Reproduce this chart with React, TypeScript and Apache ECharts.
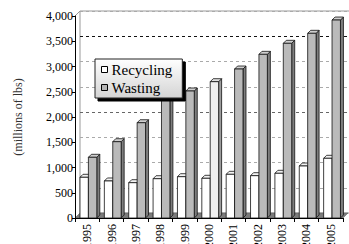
import React, { useEffect, useRef } from "react";
import * as echarts from "echarts";

const years = ["1995", "1996", "1997", "1998", "1999", "2000", "2001", "2002", "2003", "2004", "2005"];
const recycling = [806, 733, 699, 778, 818, 786, 865, 838, 885, 1030, 1182];
const wasting = [1202, 1511, 1887, 2350, 2515, 2699, 2950, 3241, 3459, 3657, 3920];
const lightWastingYear = "2000";
const yTicks = [0, 500, 1000, 1500, 2000, 2500, 3000, 3500, 4000];

const W = 349;
const H = 244;
const G = { left: 75, top: 16, right: 6, bottom: 26 };
const DEPTH = 5;
const BAR_D = 3;
const FONT = "'Liberation Serif', 'Times New Roman', serif";

function makeRender(which: number) {
  return (params: any, api: any) => {
    const idx = api.value(0);
    const val = api.value(1);
    const top = api.coord([idx, val]);
    const base = api.coord([idx, 0]);
    const w = api.size([1, 0])[0];
    const x0 = top[0] - w / 2;
    const left = x0 + (which === 0 ? 0.205 : 0.55) * w;
    const right = x0 + (which === 0 ? 0.55 : 0.895) * w;
    const yT = top[1];
    const yB = base[1];
    const d = BAR_D;
    let front = "#ffffff", cap = "#f2f2f2", side = "#9a9a9a";
    if (which === 1) {
      if (years[idx] === lightWastingYear) {
        front = "#efefef"; cap = "#dedede"; side = "#9c9c9c";
      } else {
        front = "#bababa"; cap = "#cfcfcf"; side = "#7e7e7e";
      }
    }
    const stroke = "#111";
    const lw = 0.8;
    return {
      type: "group",
      children: [
        {
          type: "polygon",
          shape: { points: [[right, yB], [right + d, yB - d], [right + d, yT - d], [right, yT]] },
          style: { fill: side, stroke, lineWidth: lw },
        },
        {
          type: "polygon",
          shape: { points: [[left, yT], [left + d, yT - d], [right + d, yT - d], [right, yT]] },
          style: { fill: cap, stroke, lineWidth: lw },
        },
        {
          type: "rect",
          shape: { x: left, y: yT, width: right - left, height: yB - yT },
          style: { fill: front, stroke, lineWidth: lw },
        },
      ],
    };
  };
}

export default function App() {
  const ref = useRef<HTMLDivElement>(null);
  useEffect(() => {
    if (!ref.current) return;
    const chart = echarts.init(ref.current, null, { renderer: "svg" });
    const gridColors = yTicks.map((t) => (t === 3500 ? "#111" : t === 2000 ? "#666" : "#aaaaaa"));
    const plotRight = W - G.right;
    const plotBottom = H - G.bottom;
    chart.setOption({
      animation: false,
      backgroundColor: "#fff",
      textStyle: { fontFamily: FONT },
      grid: [
        { left: G.left, top: G.top, right: G.right, bottom: G.bottom, outerBoundsMode: "none", containLabel: false },
        {
          left: G.left + DEPTH,
          top: G.top - DEPTH,
          right: G.right - DEPTH - 2,
          bottom: G.bottom + DEPTH,
          outerBoundsMode: "none",
          containLabel: false,
          show: true,
          borderColor: "#999",
          borderWidth: 1,
          backgroundColor: "transparent",
        },
      ],
      xAxis: [
        {
          type: "category",
          data: years,
          gridIndex: 0,
          z: 3,
          boundaryGap: true,
          axisLine: { lineStyle: { color: "#000", width: 1 } },
          axisTick: { show: true, length: 4, lineStyle: { color: "#000" }, alignWithLabel: false },
          axisLabel: { rotate: 90, fontSize: 12, color: "#000", margin: 6, fontFamily: FONT, interval: 0, hideOverlap: false },
          splitLine: { show: false },
        },
        {
          type: "category",
          data: years,
          gridIndex: 1,
          show: false,
        },
      ],
      yAxis: [
        {
          type: "value",
          gridIndex: 0,
          min: 0,
          max: 4000,
          interval: 500,
          z: 3,
          name: "(millions of lbs)",
          nameLocation: "middle",
          nameGap: 51,
          nameTextStyle: { fontSize: 12, color: "#333", fontFamily: FONT },
          axisLine: { show: true, lineStyle: { color: "#000", width: 1 } },
          axisTick: { show: true, length: 3, lineStyle: { color: "#000" } },
          axisLabel: {
            fontSize: 12,
            color: "#000",
            margin: 2,
            fontFamily: FONT,
            formatter: (v: number) => v.toLocaleString("en-US"),
          },
          splitLine: { show: false },
        },
        {
          type: "value",
          gridIndex: 1,
          min: 0,
          max: 4000,
          interval: 500,
          axisLine: { show: false },
          axisTick: { show: false },
          axisLabel: { show: false },
          splitLine: { show: true, lineStyle: { color: gridColors, type: [3, 3], width: 1 } },
        },
      ],
      legend: {
        orient: "vertical",
        left: 95,
        top: 59,
        padding: [3, 10, 3, 6],
        itemGap: 3,
        itemWidth: 6,
        itemHeight: 6,
        icon: "rect",
        backgroundColor: new echarts.graphic.LinearGradient(0, 0, 0, 1, [
          { offset: 0, color: "#ffffff" },
          { offset: 1, color: "#d4d4d4" },
        ]),
        borderColor: "#222",
        borderWidth: 1,
        shadowColor: "#000",
        shadowBlur: 0,
        shadowOffsetX: 3,
        shadowOffsetY: 3,
        textStyle: { fontSize: 15, color: "#000", fontFamily: FONT, lineHeight: 15, padding: [0, 0, 0, -1] },
        data: [
          { name: "Recycling", itemStyle: { color: "#fff", borderColor: "#000", borderWidth: 1 } },
          { name: "Wasting", itemStyle: { color: "#b4b4b4", borderColor: "#000", borderWidth: 1 } },
        ],
      },
      graphic: {
        elements: [
          {
            type: "polygon",
            z: 1,
            shape: {
              points: [
                [G.left, plotBottom],
                [plotRight, plotBottom],
                [plotRight + DEPTH, plotBottom - DEPTH],
                [G.left + DEPTH, plotBottom - DEPTH],
              ],
            },
            style: { fill: "#7c7c7c", stroke: "#555", lineWidth: 0.5 },
          },
          {
            type: "line",
            z: 1,
            shape: { x1: G.left, y1: G.top, x2: G.left + DEPTH, y2: G.top - DEPTH },
            style: { stroke: "#999", lineWidth: 1 },
          },
        ],
      },
      series: [
        {
          name: "Recycling",
          type: "custom",
          xAxisIndex: 0,
          yAxisIndex: 0,
          z: 2,
          itemStyle: { color: "#fff", borderColor: "#000" },
          renderItem: makeRender(0),
          encode: { x: 0, y: 1 },
          data: recycling.map((v, i) => [i, v]),
        },
        {
          name: "Wasting",
          type: "custom",
          xAxisIndex: 0,
          yAxisIndex: 0,
          z: 3,
          itemStyle: { color: "#b4b4b4", borderColor: "#000" },
          renderItem: makeRender(1),
          encode: { x: 0, y: 1 },
          data: wasting.map((v, i) => [i, v]),
        },
      ],
    });
    return () => chart.dispose();
  }, []);
  return (
    <div
      ref={ref}
      style={{ position: "fixed", left: 0, top: 0, width: W, height: H, background: "#fff" }}
    />
  );
}
